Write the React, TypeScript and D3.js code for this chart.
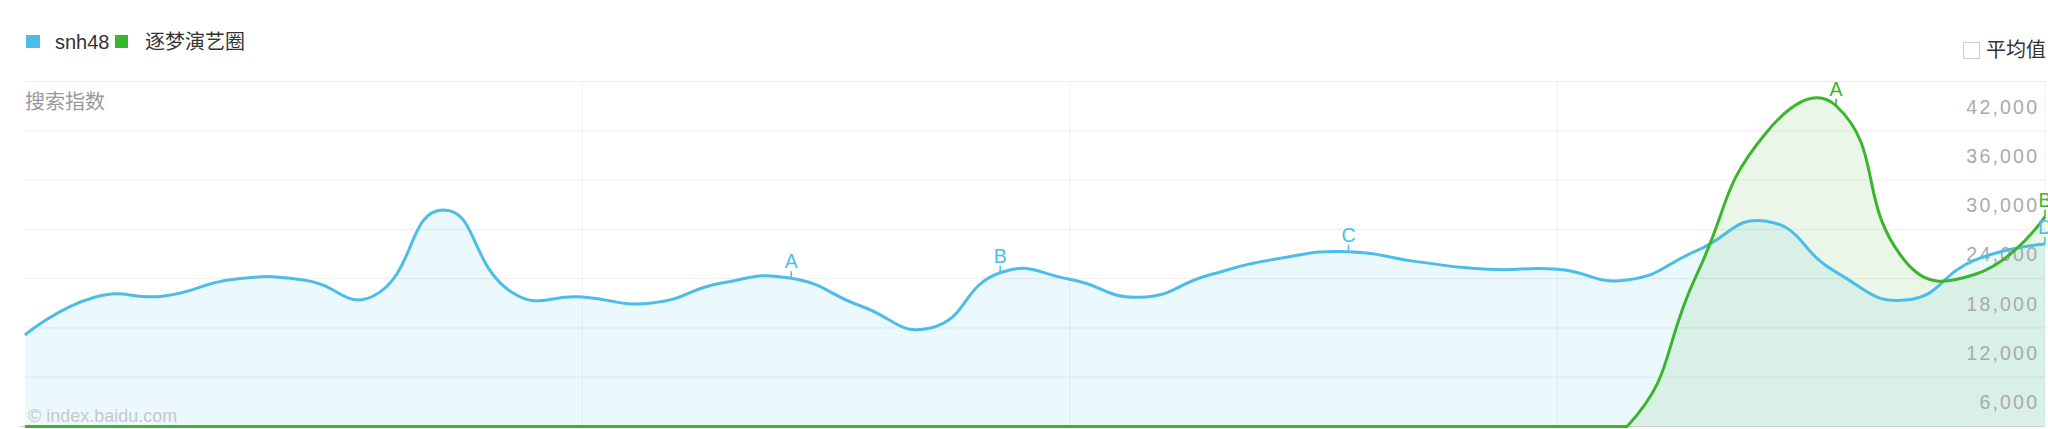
import React from 'react';
import * as d3 from 'd3';

// ---- data ----
const days: string[] = [
  'd01','d02','d03','d04','d05','d06','d07','d08','d09','d10',
  'd11','d12','d13','d14','d15','d16','d17','d18','d19','d20',
  'd21','d22','d23','d24','d25','d26','d27','d28','d29','d30',
];
const snh48: number[] = [
  11140, 15730, 15890, 17920, 17840, 15890, 26360, 16280, 15770, 15040,
  17470, 18040, 14670, 11990, 18720, 17920, 15730, 18440, 20450, 21280,
  20040, 19140, 19140, 17840, 21400, 25000, 18800, 15400, 20280, 22220,
];
const zhumeng: number[] = [
  0, 0, 0, 0, 0, 0, 0, 0, 0, 0,
  0, 0, 0, 0, 0, 0, 0, 0, 0, 0,
  0, 0, 0, 0, 18490, 35800, 39050, 20060, 18530, 25540,
];
const seriesNames = ['snh48', '逐梦演艺圈'];
const snh48Marks = [
  { label: 'A', day: 'd12' },
  { label: 'B', day: 'd15' },
  { label: 'C', day: 'd20' },
  { label: 'D', day: 'd30' },
];
const zhumengMarks = [
  { label: 'A', day: 'd27' },
  { label: 'B', day: 'd30' },
];
const yTicks = [0, 6000, 12000, 18000, 24000, 30000, 36000, 42000];
const weekLines = ['d09', 'd16', 'd23'];

const BLUE = '#4bbde8';
const GREEN = '#3cb52e';

// ECharts-like smooth bezier curve, control points constrained to a box
function makeSmooth(smooth: number, box: [number, number, number, number]) {
  class SmoothCurve {
    _context: any;
    _pts: number[][] = [];
    _line = NaN;
    constructor(context: any) { this._context = context; }
    areaStart() { this._line = 0; }
    areaEnd() { this._line = NaN; }
    lineStart() { this._pts = []; }
    point(x: number, y: number) { this._pts.push([+x, +y]); }
    lineEnd() {
      const pts = this._pts;
      const n = pts.length;
      const ctx = this._context;
      if (n) {
        if (this._line) ctx.lineTo(pts[0][0], pts[0][1]);
        else ctx.moveTo(pts[0][0], pts[0][1]);
        const [minX, minY, maxX, maxY] = box;
        const cx = (v: number) => Math.max(minX, Math.min(maxX, v));
        const cy = (v: number) => Math.max(minY, Math.min(maxY, v));
        const s = smooth;
        let cp0 = [pts[0][0], pts[0][1]];
        for (let i = 1; i < n; i++) {
          const p = pts[i];
          const prev = pts[i - 1];
          const next = pts[i + 1];
          let cp1: number[];
          let ratio = 0.5;
          let vx = 0, vy = 0;
          if (!next) {
            cp1 = [p[0], p[1]];
          } else {
            vx = next[0] - prev[0];
            vy = next[1] - prev[1];
            const lp = Math.hypot(p[0] - prev[0], p[1] - prev[1]);
            const ln = Math.hypot(next[0] - p[0], next[1] - p[1]);
            ratio = ln / (ln + lp);
            cp1 = [p[0] - vx * s * (1 - ratio), p[1] - vy * s * (1 - ratio)];
          }
          ctx.bezierCurveTo(cx(cp0[0]), cy(cp0[1]), cx(cp1[0]), cy(cp1[1]), p[0], p[1]);
          cp0 = [p[0] + vx * s * ratio, p[1] + vy * s * ratio];
        }
      }
      if (this._line || (this._line !== 0 && n === 1)) ctx.closePath();
      this._line = 1 - this._line;
    }
  }
  return (ctx: any) => new SmoothCurve(ctx);
}

export default function App() {
  const W = 2048, H = 429;
  const x = d3.scalePoint<string>().domain(days).range([25, 2045]);
  const y = d3.scaleLinear().domain([0, 42000]).range([426.5, 81.5]);

  const curve = makeSmooth(0.5, [25, y(42000), 2045, y(0)]);

  const line = d3.line<number>()
    .x((_, i) => x(days[i]) as number)
    .y((d) => y(d))
    .curve(curve as any);
  const area = d3.area<number>()
    .x((_, i) => x(days[i]) as number)
    .y0(y(0))
    .y1((d) => y(d))
    .curve(curve as any);

  const fmt = d3.format(',');
  const latin = '"Liberation Sans", Arial, Helvetica, sans-serif';
  const cjk = '"Noto Sans CJK SC", "Liberation Sans", sans-serif';

  const marks = (data: number[], list: { label: string; day: string }[], color: string) =>
    list.map((m) => {
      const i = days.indexOf(m.day);
      const px = x(m.day) as number;
      const py = y(data[i]);
      return (
        <g key={color + m.label}>
          <line x1={px} x2={px} y1={py - 7} y2={py} stroke={color} strokeWidth={1.5} />
          <text x={px} y={py - 10} textAnchor="middle" fontSize={19.5} fontFamily={latin} fill={color}>
            {m.label}
          </text>
        </g>
      );
    });

  return (
    <svg width={W} height={H} style={{ position: 'absolute', left: 0, top: 0, background: '#fff' }}>
      <rect x={0} y={0} width={W} height={H} fill="#fff" />
      {/* fills */}
      <path d={area(snh48) || ''} fill="rgba(75,189,232,0.11)" />
      <path d={area(zhumeng) || ''} fill="rgba(60,181,46,0.11)" />
      {/* grid */}
      {yTicks.map((t) => (
        <line key={'h' + t} x1={25} x2={2045} y1={y(t)} y2={y(t)} stroke="rgba(0,0,0,0.07)" strokeWidth={1} />
      ))}
      {weekLines.map((d) => (
        <line key={'v' + d} x1={x(d)} x2={x(d)} y1={y(42000)} y2={y(0)} stroke="rgba(0,0,0,0.06)" strokeWidth={1} />
      ))}
      <line x1={2045} x2={2045} y1={y(42000)} y2={y(0)} stroke="rgba(0,0,0,0.06)" strokeWidth={1} />
      <line x1={20} x2={2045} y1={y(0)} y2={y(0)} stroke="#cfcfcf" strokeWidth={1} />
      {/* watermark */}
      <text x={28} y={421.5} fontSize={18} fontFamily={latin} fill="#c8c8c8">© index.baidu.com</text>
      {/* y labels */}
      {yTicks.filter((t) => t > 0).map((t) => (
        <text key={'yl' + t} x={2037 + 2.2} y={y(t) + 32} textAnchor="end" fontSize={19.5}
          letterSpacing={2.2} fontFamily={latin} fill="#aaaaaa">
          {fmt(t)}
        </text>
      ))}
      {/* lines */}
      <path d={line(snh48) || ''} fill="none" stroke={BLUE} strokeWidth={3} strokeLinejoin="round" />
      <path d={line(zhumeng) || ''} fill="none" stroke={GREEN} strokeWidth={3} strokeLinejoin="round" />
      {/* markers */}
      {marks(snh48, snh48Marks, BLUE)}
      {marks(zhumeng, zhumengMarks, GREEN)}
      {/* legend */}
      <rect x={26} y={35} width={14} height={13} fill={BLUE} />
      <text x={55} y={48.5} fontSize={20} fontFamily={latin} fill="#333">{seriesNames[0]}</text>
      <rect x={115} y={35} width={13} height={13} fill={GREEN} />
      <text x={145} y={48.5} fontSize={20} fontFamily={cjk} fill="#333">{seriesNames[1]}</text>
      {/* y axis title */}
      <text x={25} y={108.5} fontSize={20} fontFamily={cjk} fill="#999">搜索指数</text>
      {/* average checkbox */}
      <rect x={1963.5} y={42.5} width={16} height={16} fill="#fff" stroke="#cccccc" strokeWidth={1} />
      <text x={1986} y={57} fontSize={20} fontFamily={cjk} fill="#333">平均值</text>
    </svg>
  );
}
